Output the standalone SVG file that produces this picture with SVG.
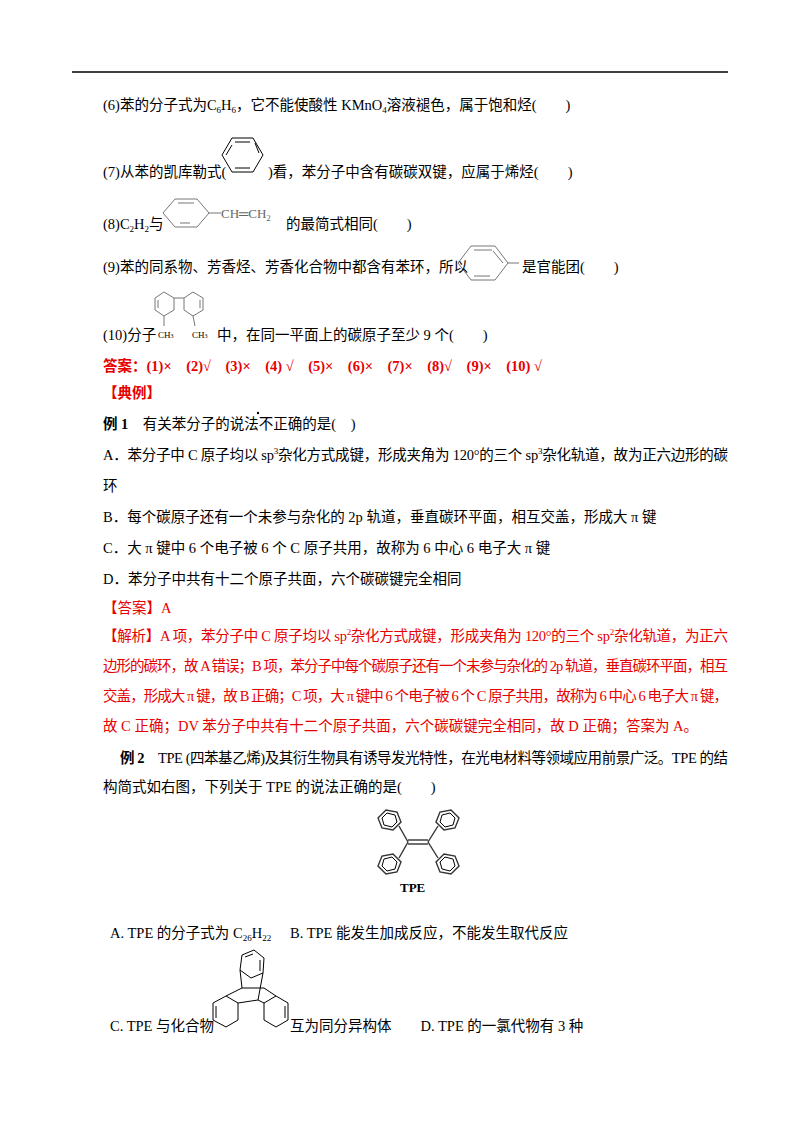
<svg xmlns="http://www.w3.org/2000/svg" width="800" height="1132" viewBox="0 0 800 1132">
<style>
text{font-family:"Liberation Serif","Noto Sans CJK SC",serif;font-size:14.5px;fill:#000}
.r{fill:#e60000}
.b{font-weight:bold}
.s{font-size:9px}
.m{fill:none;stroke:#000;stroke-width:1}
.t{fill:none;stroke:#333;stroke-width:1.4}
.g{fill:none;stroke:#777;stroke-width:1}
</style>
<rect width="800" height="1132" fill="#fff"/>
<line x1="72" y1="72" x2="728" y2="72" stroke="#000" stroke-width="1.3"/>
<text x="103" y="110">(6)苯的分子式为C<tspan class="s" dy="3">6</tspan><tspan dy="-3">H</tspan><tspan class="s" dy="3">6</tspan><tspan dy="-3">，它不能使酸性 KMnO</tspan><tspan class="s" dy="3">4</tspan><tspan dy="-3">溶液褪色，属于饱和烃(　　)</tspan></text>
<g id="benzene7"><polygon class="m" points="222,155 232,138 253,138 263,155 253,172 232,172"/><line class="m" x1="235" y1="142" x2="250" y2="142"/><line class="m" x1="255" y1="143" x2="259" y2="153"/><line class="m" x1="235" y1="168" x2="250" y2="168"/><line class="m" x1="226" y1="155" x2="232" y2="145"/></g>
<text x="103" y="177">(7)从苯的凯库勒式(</text><text x="268" y="177">)看，苯分子中含有碳碳双键，应属于烯烃(　　)</text>
<g id="styrene"><polygon class="g" points="163,213 175,199 197,199 209,213 197,227 175,227"/><line class="g" x1="178" y1="203" x2="194" y2="203"/><line class="g" x1="180" y1="223" x2="190" y2="223"/><line class="g" x1="209" y1="213" x2="221" y2="213"/><text x="221" y="218" style="fill:#666;font-size:13px">CH═CH<tspan class="s" dy="3">2</tspan></text></g>
<text x="103" y="229">(8)C<tspan class="s" dy="3">2</tspan><tspan dy="-3">H</tspan><tspan class="s" dy="3">2</tspan><tspan dy="-3">与</tspan></text><text x="286" y="229">的最简式相同(　　)</text>
<g id="toluene"><polygon class="g" points="458,263 471,246 495,246 508,263 495,280 471,280"/><line class="g" x1="474" y1="250" x2="492" y2="250"/><line class="g" x1="493" y1="251" x2="503" y2="263"/><line class="g" x1="474" y1="276" x2="490" y2="276"/><line class="g" x1="508" y1="263" x2="519" y2="263"/></g>
<text x="103" y="272">(9)苯的同系物、芳香烃、芳香化合物中都含有苯环，所以</text><text x="522" y="272">是官能团(　　)</text>
<g id="biphenyl"><polygon class="g" points="155,310 155,298 164,292 174,298 174,310 164,316"/><polygon class="g" points="184,310 184,298 193,292 203,298 203,310 193,316"/><line class="g" x1="174" y1="298" x2="184" y2="298"/><line class="g" x1="164" y1="316" x2="164" y2="326"/><line class="g" x1="193" y1="316" x2="195" y2="326"/><line class="g" x1="158" y1="300" x2="158" y2="308"/><line class="g" x1="200" y1="300" x2="200" y2="308"/><text x="158" y="338" class="s">CH<tspan style="font-size:6px">3</tspan></text><text x="192" y="338" class="s">CH<tspan style="font-size:6px">3</tspan></text></g>
<text x="103" y="340">(10)分子</text><text x="217" y="340">中，在同一平面上的碳原子至少 9 个(　　)</text>
<text x="103" y="371" class="r b">答案：(1)×　(2)√　(3)×　(4) √　(5)×　(6)×　(7)×　(8)√　(9)×　(10) √</text>
<text x="103" y="398" class="r b">【典例】</text>
<text x="103" y="429"><tspan class="b">例 1</tspan>　有关苯分子的说法不正确的是(　)</text><circle cx="258" cy="413" r="1.2"/>
<text x="103" y="460" textLength="625">A．苯分子中 C 原子均以 sp<tspan class="s" dy="-6">3</tspan><tspan dy="6">杂化方式成键，形成夹角为 120°的三个 sp</tspan><tspan class="s" dy="-6">3</tspan><tspan dy="6">杂化轨道，故为正六边形的碳</tspan></text>
<text x="103" y="491">环</text>
<text x="103" y="522">B．每个碳原子还有一个未参与杂化的 2p 轨道，垂直碳环平面，相互交盖，形成大 π 键</text>
<text x="103" y="553">C．大 π 键中 6 个电子被 6 个 C 原子共用，故称为 6 中心 6 电子大 π 键</text>
<text x="103" y="584">D．苯分子中共有十二个原子共面，六个碳碳键完全相同</text>
<text x="103" y="613" class="r">【答案】A</text>
<text x="103" y="641" class="r" textLength="625">【解析】A 项，苯分子中 C 原子均以 sp<tspan class="s" dy="-6">2</tspan><tspan dy="6">杂化方式成键，形成夹角为 120°的三个 sp</tspan><tspan class="s" dy="-6">2</tspan><tspan dy="6">杂化轨道，为正六</tspan></text>
<text x="103" y="671" class="r" textLength="625">边形的碳环，故 A 错误；B 项，苯分子中每个碳原子还有一个未参与杂化的 2p 轨道，垂直碳环平面，相互</text>
<text x="103" y="701" class="r" textLength="625">交盖，形成大 π 键，故 B 正确；C 项，大 π 键中 6 个电子被 6 个 C 原子共用，故称为 6 中心 6 电子大 π 键，</text>
<text x="103" y="731" class="r">故 C 正确；DV 苯分子中共有十二个原子共面，六个碳碳键完全相同，故 D 正确；答案为 A。</text>
<text x="120" y="763" textLength="608"><tspan class="b">例 2</tspan>　TPE (四苯基乙烯)及其衍生物具有诱导发光特性，在光电材料等领域应用前景广泛。TPE 的结</text>
<text x="103" y="792">构简式如右图，下列关于 TPE 的说法正确的是(　　)</text>
<g id="tpe">
<polygon class="t" points="378,818 386,810 397,812 401,822 393,830 382,828"/><polygon class="m" points="382,818 387,813 395,815 397,822 392,827 384,825"/>
<polygon class="t" points="436,822 440,812 451,810 459,818 455,828 444,830"/><polygon class="m" points="440,822 442,815 450,813 455,818 453,825 445,827"/>
<polygon class="t" points="378,866 382,856 393,854 401,862 397,872 386,874"/><polygon class="m" points="382,866 384,859 392,857 397,862 395,869 387,871"/>
<polygon class="t" points="436,862 444,854 455,856 459,866 451,874 440,872"/><polygon class="m" points="440,862 445,857 453,859 455,866 450,871 442,869"/>
<line class="t" x1="399" y1="826" x2="408" y2="842"/><line class="t" x1="399" y1="858" x2="408" y2="842"/>
<line class="t" x1="438" y1="826" x2="428" y2="842"/><line class="t" x1="438" y1="858" x2="428" y2="842"/>
<line class="t" x1="408" y1="840" x2="428" y2="840"/><line class="t" x1="408" y1="844" x2="428" y2="844"/>
<text x="400" y="892" class="b" style="font-size:13px">TPE</text></g>
<text x="110" y="938">A. TPE 的分子式为 C<tspan class="s" dy="3">26</tspan><tspan dy="-3">H</tspan><tspan class="s" dy="3">22</tspan></text>
<text x="290" y="938">B. TPE 能发生加成反应，不能发生取代反应</text>
<g id="triptycene">
<polygon class="m" points="242,955 254,950 264,958 263,973 251,978 240,970"/>
<line class="m" x1="245" y1="957" x2="253" y2="954"/><line class="m" x1="260" y1="960" x2="260" y2="971"/>
<polygon class="m" points="213,1003 226,996 238,1003 238,1020 226,1027 213,1020"/>
<polygon class="m" points="264,1003 276,996 288,1003 288,1020 276,1027 264,1020"/>
<line class="m" x1="216" y1="1006" x2="216" y2="1018"/><line class="m" x1="285" y1="1006" x2="285" y2="1018"/>
<line class="m" x1="240" y1="970" x2="242" y2="988"/><line class="m" x1="263" y1="973" x2="258" y2="1000"/>
<line class="m" x1="226" y1="996" x2="242" y2="988"/><line class="m" x1="238" y1="1003" x2="258" y2="1000"/>
<line class="m" x1="242" y1="988" x2="264" y2="988"/><line class="m" x1="264" y1="988" x2="276" y2="996"/><line class="m" x1="258" y1="1000" x2="264" y2="1003"/>
</g>
<text x="110" y="1031">C. TPE 与化合物</text><text x="290" y="1031">互为同分异构体　　D. TPE 的一氯代物有 3 种</text>
</svg>
